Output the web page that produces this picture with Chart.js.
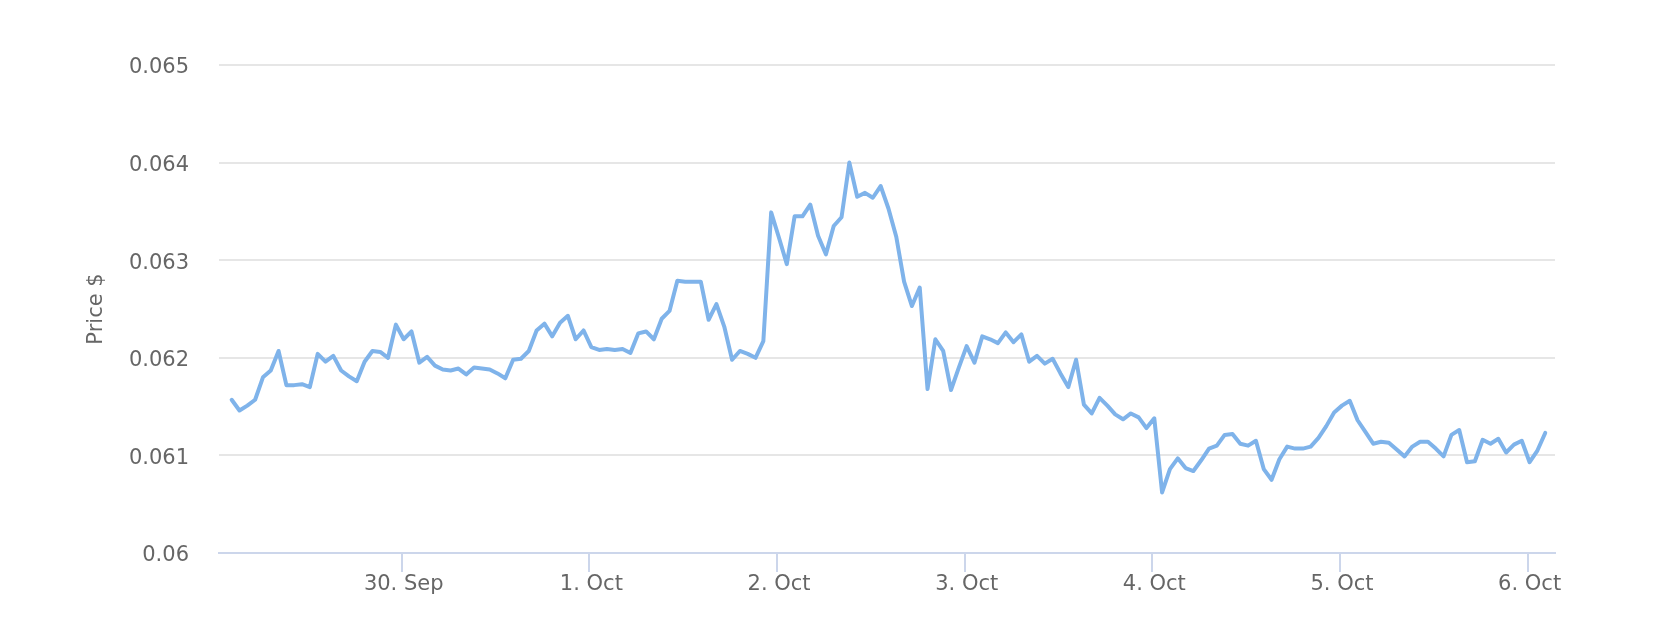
<!DOCTYPE html>
<html>
<head>
<meta charset="utf-8">
<script src="https://cdn.jsdelivr.net/npm/chart.js"></script>
<style>
  html, body { margin: 0; padding: 0; background: #ffffff; }
  #wrap { width: 1679px; height: 636px; }
  canvas { display: block; }
</style>
</head>
<body>
<div id="wrap"><canvas id="c" width="1679" height="636" style="width:1679px;height:636px"></canvas></div>
<script>
// ---- data (hourly prices, first sample at 29 Sep 02:15; x = hours since 29 Sep 00:00) ----
const startHour = 2.25;
const stepHours = 1;
const priceValues = [
  0.06157, 0.06146, 0.06151, 0.06157, 0.06180, 0.06187, 0.06207, 0.06172, 0.06172, 0.06173,
  0.06170, 0.06204, 0.06196, 0.06202, 0.06187, 0.06181, 0.06176, 0.06196, 0.06207, 0.06206,
  0.06200, 0.06234, 0.06219, 0.06227, 0.06195, 0.06201, 0.06192, 0.06188, 0.06187, 0.06189,
  0.06183, 0.06190, 0.06189, 0.06188, 0.06184, 0.06179, 0.06198, 0.06199, 0.06207, 0.06228,
  0.06235, 0.06222, 0.06236, 0.06243, 0.06219, 0.06228, 0.06211, 0.06208, 0.06209, 0.06208,
  0.06209, 0.06205, 0.06225, 0.06227, 0.06219, 0.06240, 0.06248, 0.06279, 0.06278, 0.06278,
  0.06278, 0.06239, 0.06255, 0.06232, 0.06198, 0.06207, 0.06204, 0.06200, 0.06217, 0.06349,
  0.06323, 0.06296, 0.06345, 0.06345, 0.06357, 0.06325, 0.06306, 0.06335, 0.06344, 0.06400,
  0.06365, 0.06369, 0.06364, 0.06376, 0.06353, 0.06324, 0.06278, 0.06253, 0.06272, 0.06168,
  0.06219, 0.06207, 0.06167, 0.06190, 0.06212, 0.06195, 0.06222, 0.06219, 0.06215, 0.06226,
  0.06216, 0.06224, 0.06196, 0.06202, 0.06194, 0.06199, 0.06184, 0.06170, 0.06198, 0.06152,
  0.06143, 0.06159, 0.06151, 0.06142, 0.06137, 0.06143, 0.06139, 0.06128, 0.06138, 0.06062,
  0.06086, 0.06097, 0.06087, 0.06084, 0.06095, 0.06107, 0.06110, 0.06121, 0.06122, 0.06112,
  0.06110, 0.06115, 0.06086, 0.06075, 0.06096, 0.06109, 0.06107, 0.06107, 0.06109, 0.06118,
  0.06130, 0.06144, 0.06151, 0.06156, 0.06136, 0.06124, 0.06112, 0.06114, 0.06113, 0.06106,
  0.06099, 0.06109, 0.06114, 0.06114, 0.06107, 0.06099, 0.06121, 0.06126, 0.06093, 0.06094,
  0.06116, 0.06112, 0.06117, 0.06103, 0.06111, 0.06115, 0.06093, 0.06105, 0.06123
];
const tickHours  = [24, 48, 72, 96, 120, 144, 168];
const tickLabels = ["30. Sep", "1. Oct", "2. Oct", "3. Oct", "4. Oct", "5. Oct", "6. Oct"];
const yMin = 0.060, yMax = 0.065, yStep = 0.001;
const xMin = 0.63, xMax = 171.5;
const axisTitle = "Price $";

const points = priceValues.map((v, i) => ({ x: startHour + i * stepHours, y: v }));

const FONT = "'DejaVu Sans', sans-serif";

new Chart(document.getElementById('c'), {
  type: 'line',
  data: {
    datasets: [{
      data: points,
      borderColor: '#7fb3ea',
      borderWidth: 4,
      pointRadius: 0,
      pointHoverRadius: 0,
      tension: 0,
      fill: false,
      borderJoinStyle: 'round',
      borderCapStyle: 'round'
    }]
  },
  options: {
    responsive: false,
    animation: false,
    devicePixelRatio: 1,
    layout: { padding: { left: 0, right: 124, top: 65, bottom: 0 } },
    plugins: { legend: { display: false }, tooltip: { enabled: false }, title: { display: false } },
    scales: {
      x: {
        type: 'linear',
        min: xMin,
        max: xMax,
        afterBuildTicks: (s) => { s.ticks = tickHours.map(v => ({ value: v })); },
        afterFit: (s) => { s.height = 83; },
        grid: {
          display: true,
          drawOnChartArea: false,
          drawTicks: true,
          tickLength: 19,
          color: '#ccd6eb',
          lineWidth: 2
        },
        border: { display: true, color: '#ccd6eb', width: 2 },
        ticks: {
          autoSkip: false,
          maxRotation: 0,
          minRotation: 0,
          padding: 0,
          labelOffset: 2,
          color: '#666666',
          font: { family: FONT, size: 21, lineHeight: 1.2 },
          callback: (value) => {
            const k = tickHours.indexOf(value);
            return k >= 0 ? tickLabels[k] : '';
          }
        }
      },
      y: {
        type: 'linear',
        min: yMin,
        max: yMax,
        afterFit: (s) => { s.width = 219; },
        grid: {
          color: '#e6e6e6',
          lineWidth: 2,
          drawTicks: false
        },
        border: { display: false },
        ticks: {
          stepSize: yStep,
          padding: 30,
          labelOffset: 3,
          color: '#666666',
          font: { family: FONT, size: 21, lineHeight: 1.2 },
          callback: (v) => parseFloat(Number(v).toFixed(3)).toString()
        },
        title: {
          display: true,
          text: axisTitle,
          color: '#666666',
          font: { family: FONT, size: 21, lineHeight: 1.2 },
          padding: { top: 84, bottom: 0 }
        }
      }
    }
  }
});
</script>
</body>
</html>
